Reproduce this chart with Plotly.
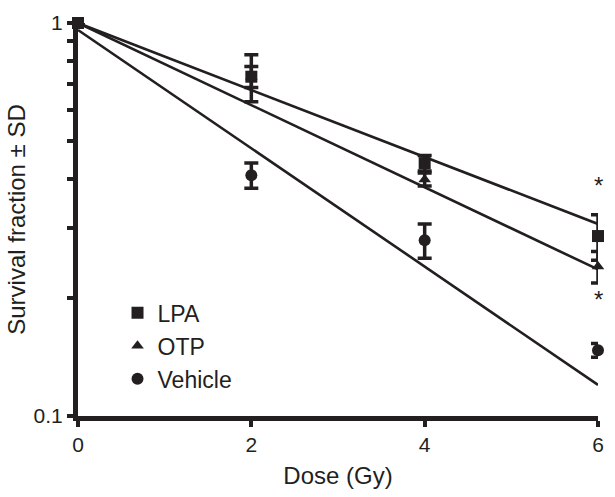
import math
import plotly.graph_objects as go

dose = [0, 2, 4, 6]
lpa = [1.0, 0.73, 0.44, 0.287]
lpa_sd = [0.0, 0.10, 0.02, 0.038]
otp = [1.0, 0.73, 0.40, 0.24]
otp_sd = [0.0, 0.045, 0.015, 0.022]
veh = [1.0, 0.41, 0.28, 0.147]
veh_sd = [0.0, 0.03, 0.028, 0.006]

fit_x = [0, 6]
fit_lpa = [1.0, 0.308]
fit_otp = [1.0, 0.236]
fit_veh = [0.96, 0.12]

star_y = [0.385, 0.198]

y_tickvals = [0.1, 0.2, 0.3, 0.4, 0.5, 0.6, 0.7, 0.8, 0.9, 1]
y_ticktext = ["0.1", "", "", "", "", "", "", "", "", "1"]
x_tickvals = [0, 2, 4, 6]

INK = "#231f20"
FONT = "Liberation Sans, Arial, sans-serif"

fig = go.Figure()
for fy in (fit_lpa, fit_otp, fit_veh):
    fig.add_trace(go.Scatter(x=fit_x, y=fy, mode="lines", showlegend=False,
                             line=dict(color=INK, width=2.6), hoverinfo="skip",
                             cliponaxis=False))

for name, ys, sd, sym, size in [("LPA", lpa, lpa_sd, "square", 12),
                                ("OTP", otp, otp_sd, "triangle-up", 11),
                                ("Vehicle", veh, veh_sd, "circle", 12)]:
    fig.add_trace(go.Scatter(
        x=dose, y=ys, mode="markers", name=name, legendgroup=name,
        marker=dict(symbol=sym, size=size, color=INK),
        error_y=dict(type="data", array=sd, visible=True, color=INK,
                     thickness=3.5, width=7),
        cliponaxis=False))

for sy in star_y:
    fig.add_annotation(x=6, xref="x", y=math.log10(sy), yref="y", text="*",
                       showarrow=False, xanchor="center", yanchor="middle",
                       font=dict(size=24, color=INK, family=FONT))

fig.update_layout(
    width=615, height=497,
    margin=dict(l=78, r=11, t=21, b=71),
    paper_bgcolor="white", plot_bgcolor="white",
    font=dict(family=FONT, size=21, color=INK),
    legend=dict(x=0.076, y=0.317, xanchor="left", yanchor="top",
                font=dict(size=23, color=INK), bgcolor="rgba(0,0,0,0)",
                tracegroupgap=0),
    xaxis=dict(range=[0, 6], tickvals=x_tickvals, showgrid=False, zeroline=False,
               showline=True, linecolor=INK, linewidth=5,
               ticks="outside", ticklen=6, tickwidth=4, tickcolor=INK,
               tickfont=dict(size=21),
               title=dict(text="Dose (Gy)", font=dict(size=24), standoff=13)),
    yaxis=dict(type="log", range=[-1, 0], tickvals=y_tickvals, ticktext=y_ticktext,
               showgrid=False, zeroline=False,
               showline=True, linecolor=INK, linewidth=5,
               ticks="outside", ticklen=6, tickwidth=4, tickcolor=INK,
               tickfont=dict(size=21),
               title=dict(text="Survival fraction ± SD", font=dict(size=24), standoff=3)),
)

fig.write_html("out.html", config={"displayModeBar": False},
               post_script="document.body.style.margin='0';document.body.style.overflow='hidden';")
